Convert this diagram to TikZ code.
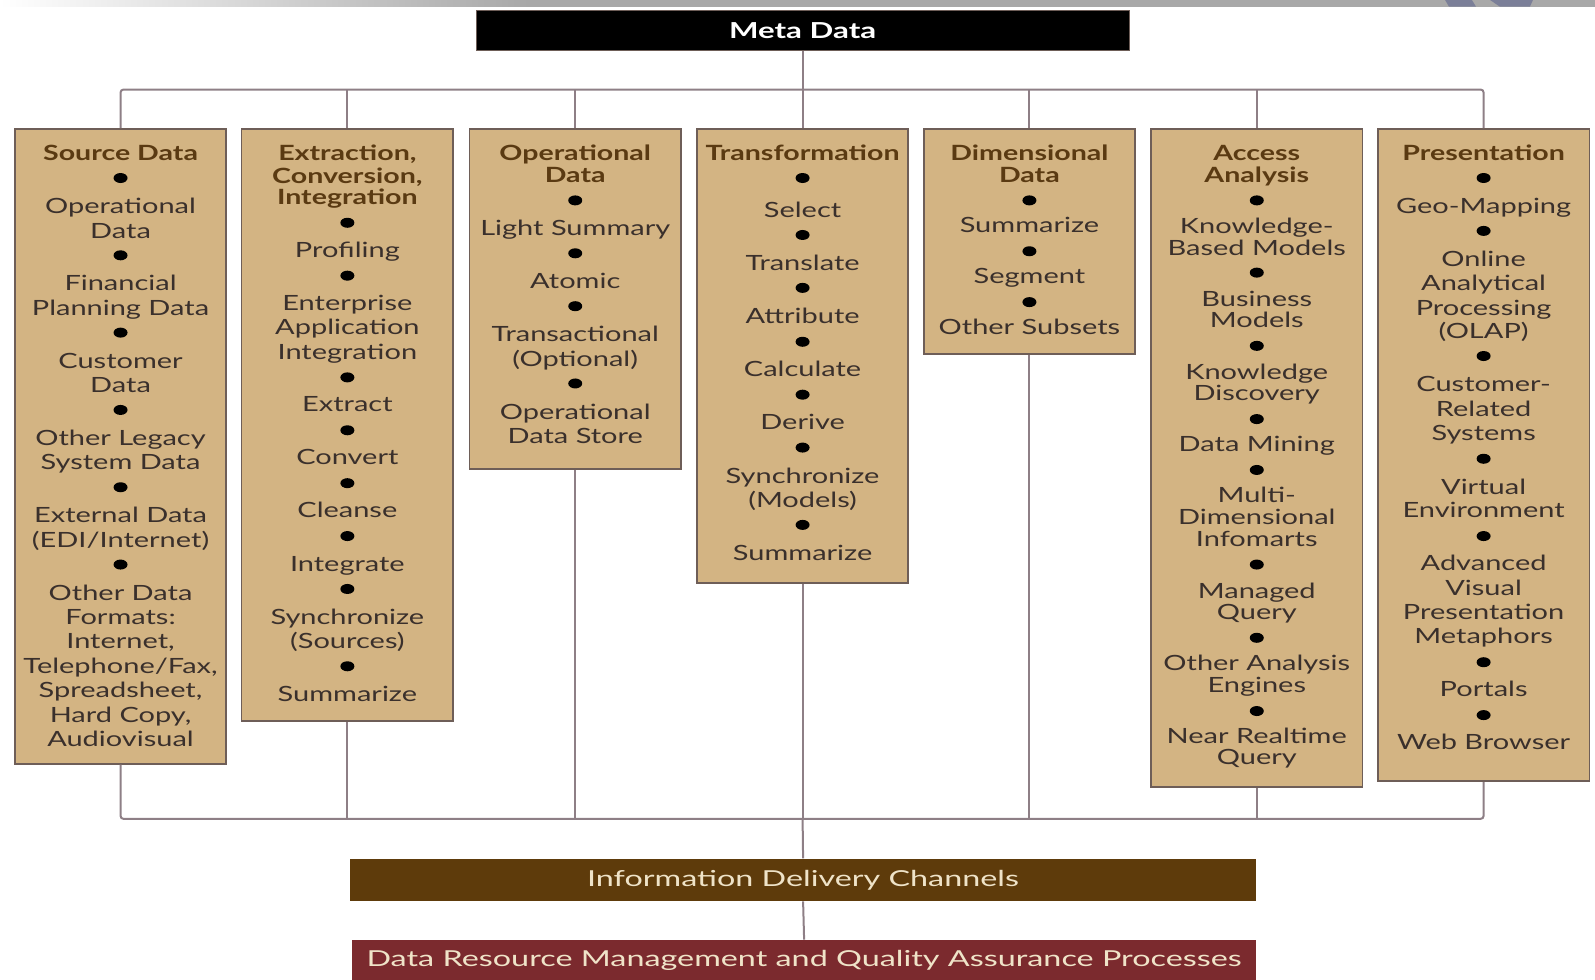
\documentclass[tikz,border=0pt]{standalone}
\usepackage{fontspec}
\setmainfont{Lato}
\newfontfamily\bodyfont{Lato}[FakeStretch=1.38]
\newfontfamily\headfont{Lato}[FakeStretch=1.36]
\newfontfamily\metafont{Lato}[FakeStretch=1.42]
\newfontfamily\barfont{Lato}[FakeStretch=1.47]
\usetikzlibrary{shapes.geometric}

\definecolor{tanfill}{HTML}{D3B483}
\definecolor{boxedge}{HTML}{6E5E58}
\definecolor{headbrown}{HTML}{5A3A12}
\definecolor{bodyink}{HTML}{3A302C}
\definecolor{linkclr}{HTML}{8E7F86}
\definecolor{barbrown}{HTML}{5E3B0B}
\definecolor{barred}{HTML}{7B2A2E}
\definecolor{barink}{HTML}{EFE3C8}
\definecolor{bandgrey}{HTML}{A8A8A8}
\definecolor{logoblue}{HTML}{7B7F98}

\tikzset{
  colbox/.style={draw=boxedge, line width=1.8pt, fill=tanfill,
    minimum width=211.6pt, inner sep=0pt},
  headtxt/.style={anchor=base, inner sep=0pt, text=headbrown,
    font=\headfont\bfseries\fontsize{21}{24}\selectfont},
  bodytxt/.style={anchor=base, inner sep=0pt, text=bodyink,
    font=\bodyfont\fontsize{21}{24}\selectfont},
  dot/.style={ellipse, fill=black, inner sep=0pt,
    minimum width=14pt, minimum height=10pt},
  conn/.style={draw=linkclr, line width=2pt},
  metabox/.style={fill=black, draw=boxedge, line width=1pt,
    minimum width=653pt, minimum height=40.7pt, inner sep=0pt,
    text=white, font=\metafont\bfseries\fontsize{22}{24}\selectfont},
  barbox/.style={inner sep=0pt, text=barink,
    font=\barfont\fontsize{22}{24}\selectfont},
}

% one column of the chain: box, heading, bullets, items and its two rail taps
\newcommand\stagecol[6]{%
  \node[colbox, minimum height={(#3-126)*1.0172pt}, anchor=north] (c#1) at (#2,126) {};
  \foreach \yy/\lbl [count=\i] in {#4}
    \node[headtxt] (h#1-\i) at (#2,\yy+7) {\lbl};
  \foreach \yy [count=\i] in {#5}
    \node[dot] (d#1-\i) at (#2,\yy) {};
  \foreach \yy/\lbl [count=\i] in {#6}
    \node[bodytxt] (t#1-\i) at (#2,\yy+7) {\lbl};
  \coordinate (up#1) at (#2,88);
  \coordinate (lo#1) at (#2,805);
}

\begin{document}
\begin{tikzpicture}[x=1.0172pt, y=-1.0172pt]
\useasboundingbox (0,0) rectangle (1568,963);

% slide header band and logo fragment
\shade[left color=white, right color=bandgrey] (0,0) rectangle (520,6.6);
\fill[bandgrey] (520,0) rectangle (1568,6.6);
\fill[logoblue] (1420.6,0) -- (1447,0) -- (1451,6.6) -- (1424.5,6.6) -- cycle;
\fill[logoblue] (1464.8,0) -- (1507,0) -- (1504,6.6) -- (1474.6,6.6) -- cycle;

% top and bottom blocks
\node[metabox] (meta) at (789,30) {Meta Data};
\node[barbox, fill=barbrown, minimum width=906.3pt, minimum height=42.7pt] (idc) at (789.5,865) {Information Delivery Channels};
\node[barbox, fill=barred, minimum width=904.3pt, minimum height=40.7pt] (drm) at (790.5,944) {Data Resource Management and Quality Assurance Processes};

% the seven stages
\stagecol{1}{118.5}{750}{151/Source Data}
  {175,251,327,403,479,555}
  {203/Operational, 227/Data, 279/Financial, 303/Planning Data,
   355/Customer, 379/Data, 431/Other Legacy, 455/System Data,
   507/External Data, 531/{(EDI/Internet)}, 583/Other Data, 607/Formats:,
   631/{Internet,}, 655/{Telephone/Fax,}, 679/{Spreadsheet,}, 703/{Hard Copy,},
   727/Audiovisual}
\stagecol{2}{341.5}{708}{151/{Extraction,}, 173/{Conversion,}, 194/Integration}
  {219,271,371,423,475,527,579,655}
  {246/Profiling, 298/Enterprise, 322/Application, 346/Integration,
   398/Extract, 450/Convert, 502/Cleanse, 555/Integrate,
   607/Synchronize, 631/(Sources), 683/Summarize}
\stagecol{3}{565.5}{460}{151/Operational, 172/Data}
  {197,249,301,377}
  {225/Light Summary, 277/Atomic, 329/Transactional, 353/(Optional),
   405/Operational, 429/Data Store}
\stagecol{4}{789}{572}{151/Transformation}
  {175,231,283,336,388,440,516}
  {207/Select, 259/Translate, 311/Attribute, 363/Calculate, 415/Derive,
   468/Synchronize, 492/(Models), 544/Summarize}
\stagecol{5}{1012}{347}{151/Dimensional, 172/Data}
  {197,247,297}
  {222/Summarize, 272/Segment, 322/Other Subsets}
\stagecol{6}{1235.5}{773}{151/Access, 172/Analysis}
  {197,268,340,412,462,555,627,699}
  {223/Knowledge-, 244/Based Models, 294/Business, 315/Models,
   366/Knowledge, 387/Discovery, 437/Data Mining, 487/Multi-,
   509/Dimensional, 530/Infomarts, 581/Managed, 602/Query,
   652/Other Analysis, 674/Engines, 724/Near Realtime, 745/Query}
\stagecol{7}{1458.5}{767}{151/Presentation}
  {175,227,350,451,527,651,703}
  {203/Geo-Mapping, 255/Online, 279/Analytical, 303/Processing, 326/(OLAP),
   378/Customer-, 402/Related, 426/Systems, 479/Virtual, 502/Environment,
   554/Advanced, 578/Visual, 602/Presentation, 626/Metaphors,
   678/Portals, 730/Web Browser}

% connectors
\draw[conn] (meta.south) -- (up4);
\draw[conn, rounded corners=3pt] (c1.north) -- (up1) -- (up7) -- (c7.north);
\draw[conn, rounded corners=3pt] (c1.south) -- (lo1) -- (lo7) -- (c7.south);
\foreach \k in {2,...,6} {
  \draw[conn] (up\k) -- (c\k.north);
  \draw[conn] (c\k.south) -- (lo\k);
}
\draw[conn] (lo4) -- (idc.north);
\draw[conn] (idc.south) -- (drm.north);
\end{tikzpicture}
\end{document}
